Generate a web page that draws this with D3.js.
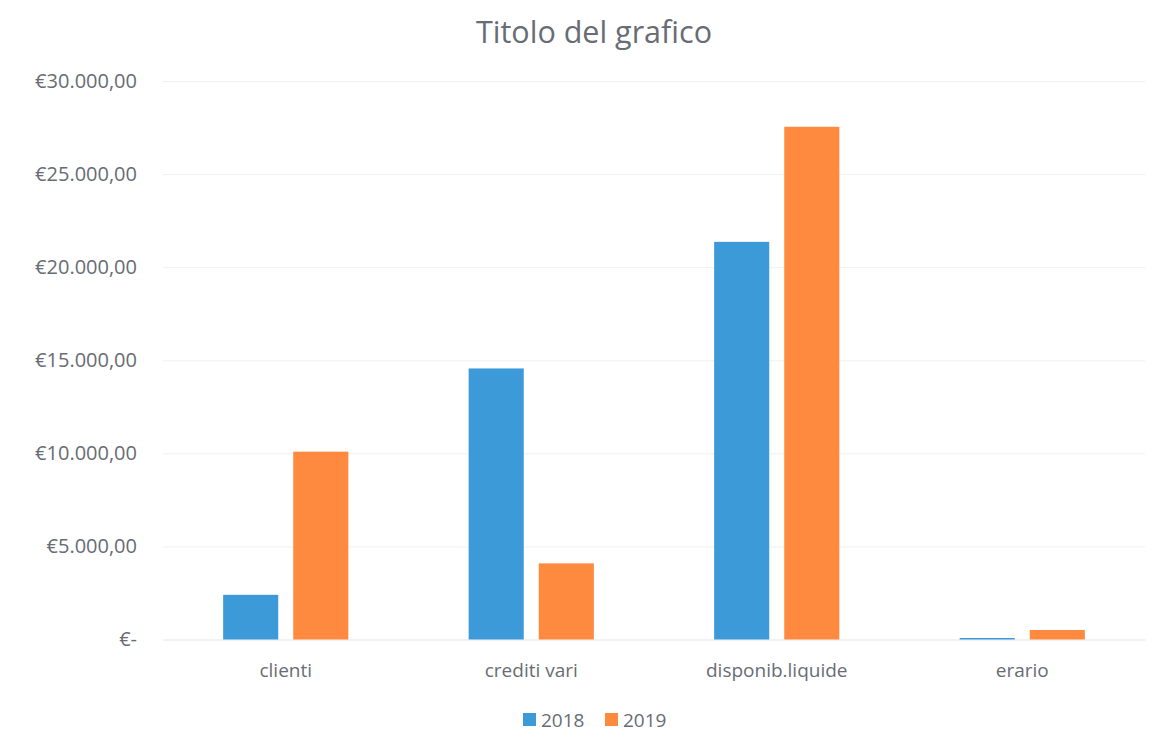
<!DOCTYPE html>
<html>
<head>
<meta charset="utf-8">
<script src="https://cdn.jsdelivr.net/npm/d3@7"></script>
<style>
    body { margin: 0; background: #fff; }
    svg { display: block; }
    svg text { font-family: "Open Sans", sans-serif; }
</style>
</head>
<body>
<div id="plot-area"><svg></svg></div>
<script>

// data declaration
const categories = ['clienti', 'crediti vari', 'disponib.liquide', 'erario'];
const years = ['2018', '2019'];
const values2018 = [2400, 14560, 21360, 80];
const values2019 = [10090, 4090, 27540, 510];
const yTicks = [0, 5000, 10000, 15000, 20000, 25000, 30000];

const blue = '#3d9ad9';
const orange = '#fd8a3f';
const textGrey = '#686c74';

// viewport
let margin = {top: 81, right: 14, bottom: 111.5, left: 163},
    width = 1159 - margin.left - margin.right,
    height = 751 - margin.top - margin.bottom;

let svg = d3.select('#plot-area').select('svg')
    .attr('width', width + margin.left + margin.right)
    .attr('height', height + margin.top + margin.bottom);

let g = svg.append('g')
    .attr('transform', 'translate(' + margin.left + ',' + margin.top + ')');

// Set the ranges
let x0 = d3.scaleBand()
    .domain(categories)
    .range([0, width])
    .paddingInner(0.49)
    .paddingOuter(0.245);

let x1 = d3.scaleBand()
    .domain(years)
    .range([0, x0.bandwidth()])
    .paddingInner(0.214);

let y = d3.scaleLinear()
    .domain([0, 30000])
    .range([height, 0]);

// italian currency format
const locale = d3.formatLocale({
    decimal: ',',
    thousands: '.',
    grouping: [3],
    currency: ['€', '']
});
const euro = locale.format('$,.2f');

// Add the Y Axis with gridlines
let yAxis = g.append('g')
    .attr('class', 'yaxis')
    .call(d3.axisLeft(y)
        .tickValues(yTicks)
        .tickSize(-width)
        .tickPadding(26)
        .tickFormat(function (d) {
            return d === 0 ? '€-' : euro(d);
        }));

yAxis.attr('font-family', null).attr('font-size', null);
yAxis.select('.domain').remove();
yAxis.selectAll('line')
    .style('stroke', '#f0f0f0')
    .style('stroke-width', 1);
yAxis.selectAll('text')
    .style('fill', textGrey)
    .style('font-size', '20px');

// Add the X Axis
let xAxis = g.append('g')
    .attr('class', 'xaxis')
    .attr('transform', 'translate(0,' + height + ')')
    .call(d3.axisBottom(x0).tickSize(0));

xAxis.attr('font-family', null).attr('font-size', null);
xAxis.select('.domain')
    .style('stroke', '#ececec');
xAxis.selectAll('text')
    .attr('dy', null)
    .attr('y', 37)
    .style('fill', textGrey)
    .style('font-size', '19px');

// draw bars
const series = [
    {year: '2018', values: values2018, colour: blue},
    {year: '2019', values: values2019, colour: orange}
];

series.forEach(function (s) {
    g.append('g')
        .selectAll('rect')
        .data(categories)
        .enter().append('rect')
        .attr('x', function (d) {
            return x0(d) + x1(s.year);
        })
        .attr('y', function (d, i) {
            return y(s.values[i]);
        })
        .attr('width', x1.bandwidth())
        .attr('height', function (d, i) {
            return height - y(s.values[i]);
        })
        .style('fill', s.colour);
});

// Title
svg.append('text')
    .attr('x', 594)
    .attr('y', 43)
    .attr('text-anchor', 'middle')
    .style('fill', textGrey)
    .style('font-size', '30.5px')
    .text('Titolo del grafico');

// Legend
let legend = svg.selectAll('.legend')
    .data(series)
    .enter().append('g')
    .attr('class', 'legend')
    .attr('transform', function (d, i) {
        return 'translate(' + (523 + i * 82) + ',713)';
    });

legend.append('rect')
    .attr('width', 13)
    .attr('height', 13)
    .style('fill', function (d) {
        return d.colour;
    });

legend.append('text')
    .attr('x', 18)
    .attr('y', 14)
    .style('fill', textGrey)
    .style('font-size', '19px')
    .text(function (d) {
        return d.year;
    });

</script>
</body>
</html>
